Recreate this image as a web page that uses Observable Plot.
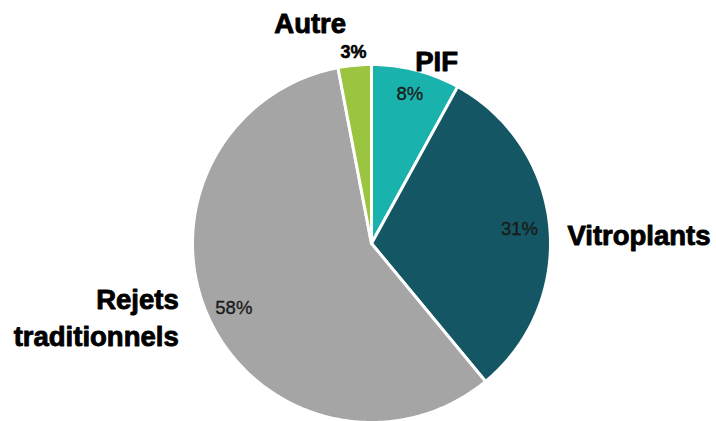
<!DOCTYPE html>
<html>
<head>
<meta charset="utf-8">
<script src="https://cdn.jsdelivr.net/npm/d3@7"></script>
<script src="https://cdn.jsdelivr.net/npm/@observablehq/plot@0.6"></script>
<style>
  html, body { margin: 0; padding: 0; background: #fff; }
  #chart svg { display: block; }
</style>
</head>
<body>
<div id="chart"></div>
<script>
// ---- data ----
const categories = ["PIF", "Vitroplants", "Rejets traditionnels", "Autre"];
const shares = [8, 31, 58, 3];
const pctLabels = ["8%", "31%", "58%", "3%"];
const sliceColors = ["#19b2ac", "#145663", "#a5a5a5", "#9bc440"];

// ---- label layout (angles in degrees relative to slice mid, radius as fraction of pie radius) ----
const catLayout = {
  "PIF": {nudge: 5, r: 1.095, anchor: "middle", text: "PIF"},
  "Vitroplants": {nudge: 2.5, r: 1.096, anchor: "start", text: "Vitroplants"},
  "Rejets traditionnels": {nudge: 4.7, r: 1.15, anchor: "end", text: "Rejets\ntraditionnels"},
  "Autre": {nudge: -10, r: 1.29, anchor: "middle", text: "Autre"}
};
const pctLayout = {
  "PIF": {r: 0.86, bold: false},
  "Vitroplants": {r: 0.83, bold: false},
  "Rejets traditionnels": {r: 0.85, bold: false},
  "Autre": {r: 1.075, bold: true}
};

const table = categories.map((c, i) => ({name: c, value: shares[i], pct: pctLabels[i]}));
const arcs = d3.pie().sort(null).value(d => d.value)(table);

// polygon vertices for each slice (unit circle, angle clockwise from top)
const polar = (a, r) => ({px: Math.sin(a) * r, py: Math.cos(a) * r});
const points = [];
for (const a of arcs) {
  const n = Math.max(2, Math.ceil((a.endAngle - a.startAngle) / (2 * Math.PI) * 360));
  points.push({name: a.data.name, ...polar(0, 0)});
  for (let k = 0; k <= n; k++) {
    const t = a.startAngle + (a.endAngle - a.startAngle) * k / n;
    points.push({name: a.data.name, ...polar(t, 1)});
  }
}

const toRad = Math.PI / 180;
const pctPts = arcs.map(a => {
  const mid = (a.startAngle + a.endAngle) / 2;
  const L = pctLayout[a.data.name];
  return {name: a.data.name, label: a.data.pct, bold: L.bold, ...polar(mid, L.r)};
});
const catPts = arcs.map(a => {
  const mid = (a.startAngle + a.endAngle) / 2;
  const L = catLayout[a.data.name];
  return {name: a.data.name, label: L.text, anchor: L.anchor, ...polar(mid + L.nudge * toRad, L.r)};
});

const cx = 371, cy = 243, R = 179;
const font = "'Liberation Sans', Arial, sans-serif";

const chart = Plot.plot({
  width: 716,
  height: 421,
  margin: 0,
  style: {background: "#fff", overflow: "hidden"},
  x: {domain: [-1, 1], range: [cx - R, cx + R], axis: null},
  y: {domain: [-1, 1], range: [cy + R, cy - R], axis: null},
  color: {domain: categories, range: sliceColors},
  marks: [
    Plot.line(points, {x: "px", y: "py", z: "name", fill: "name", stroke: "white", strokeWidth: 3, strokeLinejoin: "round", curve: "linear-closed"}),
    Plot.text(pctPts.filter(d => !d.bold), {x: "px", y: "py", text: "label", fontSize: 18.5, fill: "#1a1a1a", fontFamily: font, stroke: "#1a1a1a", strokeWidth: 0.35}),
    Plot.text(pctPts.filter(d => d.bold), {x: "px", y: "py", text: "label", fontSize: 18, fontWeight: "bold", fill: "#000", fontFamily: font, stroke: "#000", strokeWidth: 0.5}),
    ...["start", "middle", "end"].map(anchor =>
      Plot.text(catPts.filter(d => d.anchor === anchor), {
        x: "px", y: "py", text: "label", textAnchor: anchor,
        fontSize: 27.5, fontWeight: "bold", fill: "#000", fontFamily: font,
        stroke: "#000", strokeWidth: 0.9, lineHeight: 1.35
      }))
  ]
});
document.getElementById("chart").appendChild(chart);
</script>
</body>
</html>
